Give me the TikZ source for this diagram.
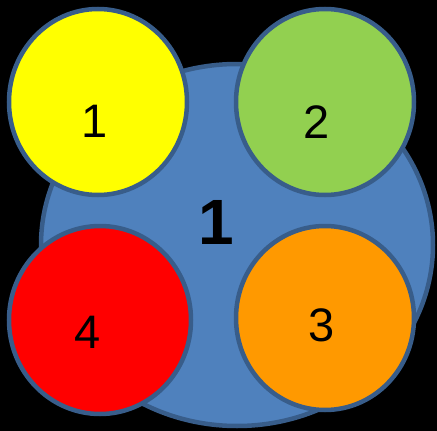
\documentclass[tikz,border=0pt]{standalone}
\usepackage{fontspec}
\setmainfont{Liberation Sans}
\definecolor{bluefill}{HTML}{4F81BD}
\definecolor{blueline}{HTML}{385D8A}
\definecolor{cyellow}{HTML}{FFFF00}
\definecolor{cgreen}{HTML}{92D050}
\definecolor{cred}{HTML}{FF0000}
\definecolor{corange}{HTML}{FF9900}
\tikzset{
  blob/.style={draw=blueline, line width=4.5pt},
  lbl/.style={inner sep=0pt, font=\fontsize{47}{50}\selectfont, text=black},
  biglbl/.style={inner sep=0pt, font=\fontsize{64}{70}\selectfont\bfseries, text=black}
}
\begin{document}
\begin{tikzpicture}[x=1pt,y=-1pt]
\fill[black] (0,0) rectangle (437,431);
\useasboundingbox (0,0) rectangle (437,431);
\filldraw[blob, fill=bluefill] (237,245) ellipse [x radius=196, y radius=181];
\filldraw[blob, fill=cyellow] (98,102) ellipse [x radius=89, y radius=93];
\filldraw[blob, fill=cgreen] (325,102) ellipse [x radius=89, y radius=93];
\filldraw[blob, fill=corange] (325,318) ellipse [x radius=89, y radius=92];
\filldraw[blob, fill=cred] (100,320) ellipse [x radius=91, y radius=94];
\node[lbl] (n1) at (95,121) {1};
\node[lbl] (n2) at (317,122) {2};
\node[lbl] (n3) at (322,325) {3};
\node[lbl] (n4) at (88,332) {4};
\node[biglbl] (c) at (216,222) {1};
\end{tikzpicture}
\end{document}
